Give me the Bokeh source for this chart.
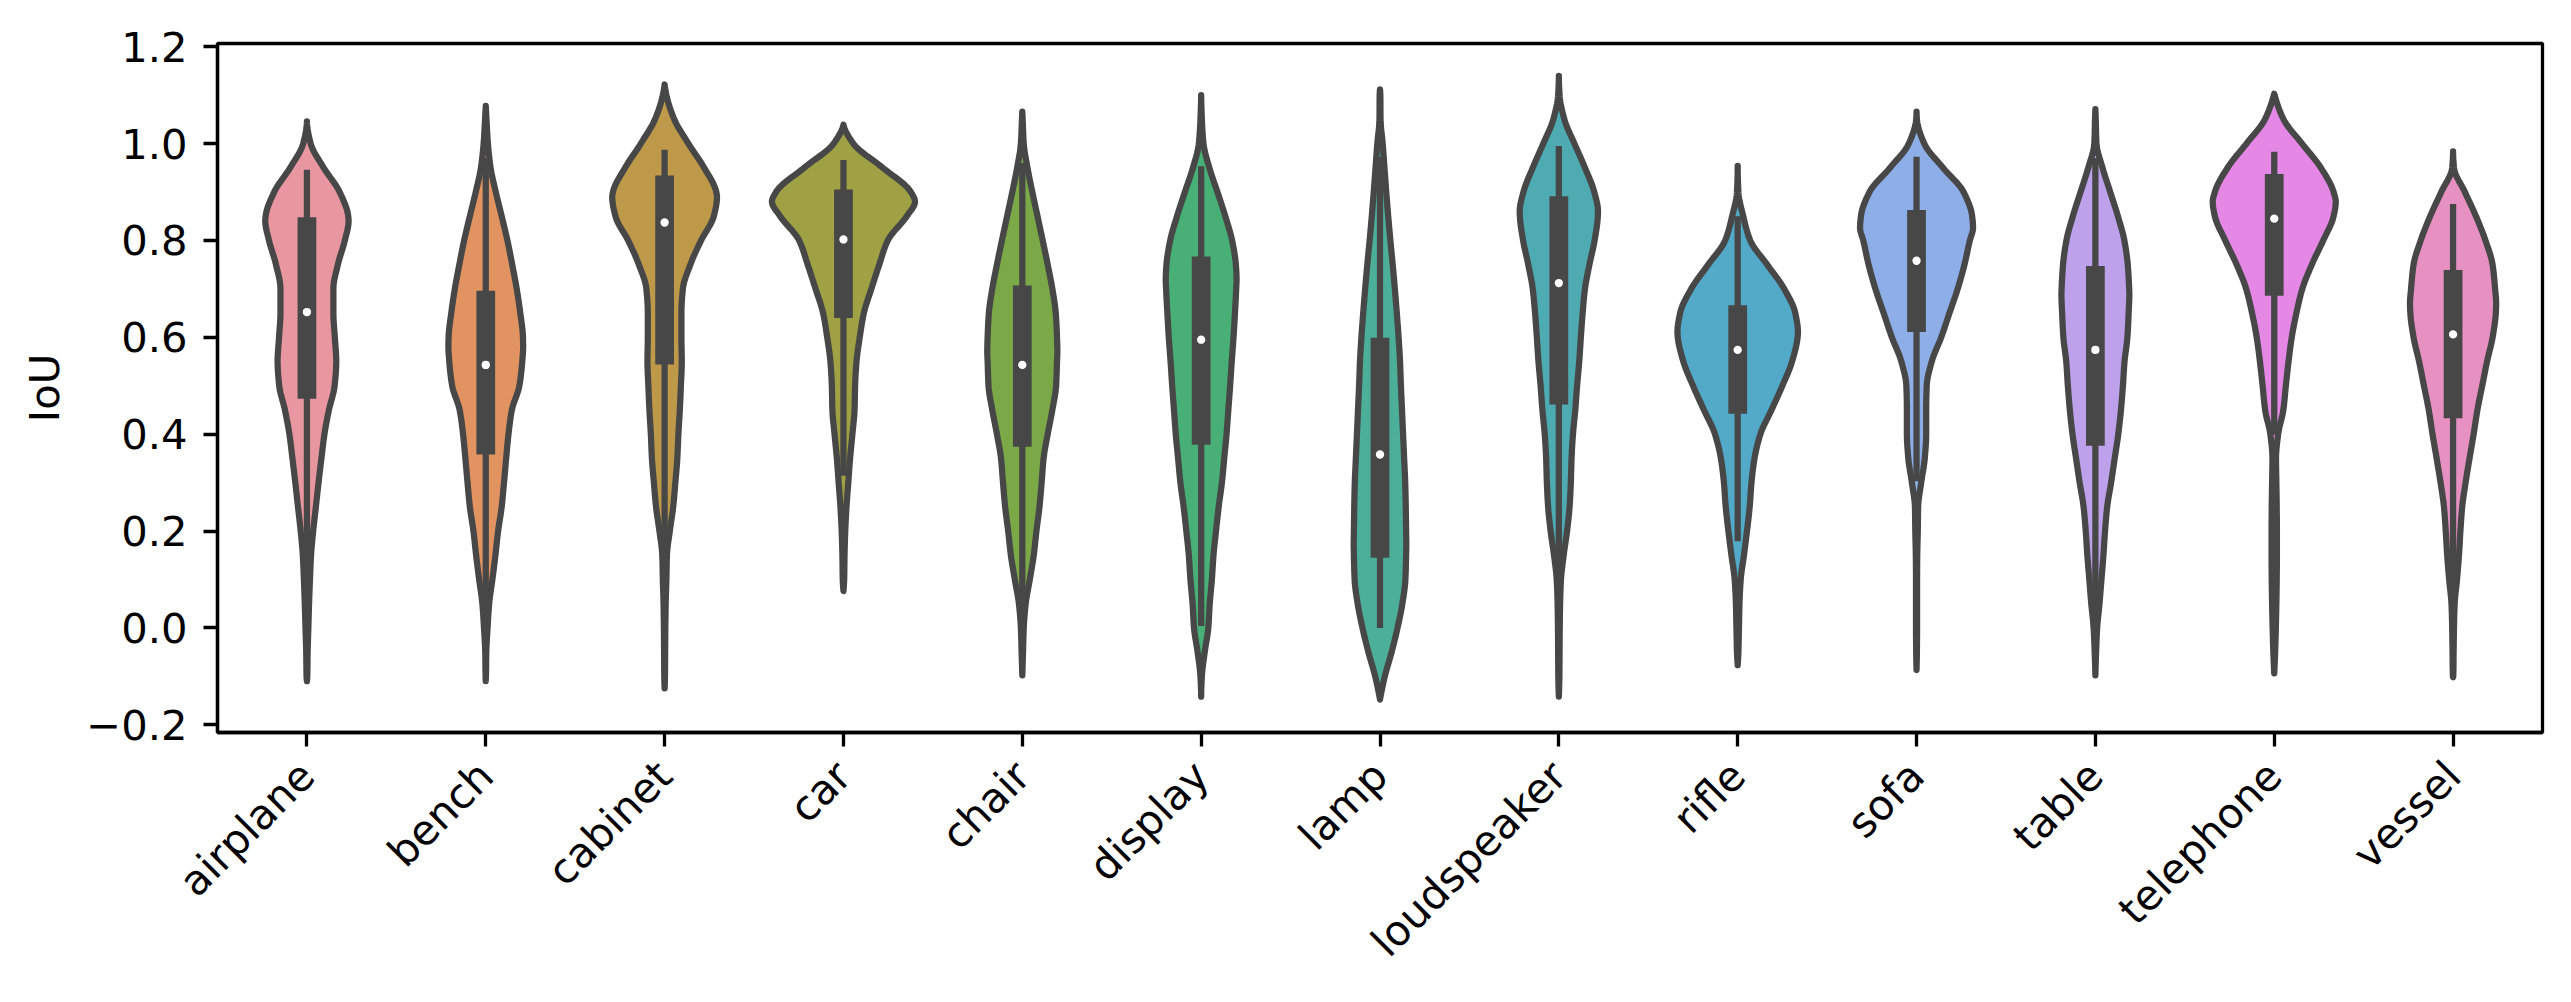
import math
import numpy as np
from bokeh.plotting import figure
from bokeh.models import Range1d, FixedTicker, CustomJSTickFormatter
from bokeh.embed import file_html
from bokeh.resources import INLINE

# ---------------- data ----------------
categories = ["airplane", "bench", "cabinet", "car", "chair", "display", "lamp",
              "loudspeaker", "rifle", "sofa", "table", "telephone", "vessel"]

# common IoU levels at which the violin half-widths (category units) were read
levels = [1.15, 1.10, 1.05, 1.00, 0.95, 0.90, 0.85, 0.80, 0.75, 0.70, 0.65, 0.60, 0.55,
          0.50, 0.45, 0.40, 0.35, 0.30, 0.25, 0.20, 0.15, 0.10, 0.05, 0.00, -0.05, -0.10, -0.15]

width_airplane = [0, 0, 0, 0.021, 0.094, 0.183, 0.231, 0.212, 0.173, 0.148, 0.148, 0.156, 0.164,
                  0.155, 0.123, 0.098, 0.081, 0.065, 0.050, 0.035, 0.023, 0.017, 0.012, 0.008, 0.004, 0.002, 0]
width_bench = [0, 0, 0.004, 0.012, 0.027, 0.056, 0.089, 0.121, 0.148, 0.173, 0.193, 0.208, 0.204,
               0.188, 0.146, 0.127, 0.114, 0.102, 0.089, 0.069, 0.054, 0.037, 0.019, 0.010, 0.003, 0.001, 0]
width_cabinet = [0, 0.010, 0.054, 0.133, 0.221, 0.289, 0.275, 0.204, 0.144, 0.102, 0.094, 0.094, 0.096,
                 0.091, 0.085, 0.077, 0.071, 0.060, 0.048, 0.029, 0.013, 0.010, 0.006, 0.004, 0.003, 0.002, 0]
width_car = [0, 0, 0, 0.055, 0.220, 0.377, 0.354, 0.248, 0.200, 0.156, 0.114, 0.091, 0.073,
             0.065, 0.062, 0.050, 0.037, 0.027, 0.017, 0.010, 0.006, 0.004, 0, 0, 0, 0, 0]
width_chair = [0, 0, 0.002, 0.008, 0.029, 0.056, 0.085, 0.114, 0.142, 0.168, 0.187, 0.194, 0.194,
               0.189, 0.168, 0.142, 0.119, 0.108, 0.096, 0.079, 0.064, 0.042, 0.019, 0.008, 0.004, 0, 0]
width_display = [0, 0, 0.004, 0.013, 0.046, 0.091, 0.135, 0.173, 0.194, 0.196, 0.189, 0.181, 0.171,
                 0.162, 0.152, 0.142, 0.129, 0.116, 0.098, 0.083, 0.069, 0.060, 0.048, 0.040, 0.020, 0.004, 0]
width_lamp = [0, 0.002, 0.003, 0.015, 0.025, 0.035, 0.046, 0.058, 0.071, 0.083, 0.094, 0.104, 0.112,
              0.117, 0.123, 0.129, 0.135, 0.141, 0.144, 0.146, 0.146, 0.142, 0.125, 0.098, 0.065, 0.027, 0]
width_loudspeaker = [0, 0.004, 0.031, 0.087, 0.146, 0.198, 0.218, 0.200, 0.171, 0.146, 0.133, 0.123, 0.114,
                     0.102, 0.092, 0.079, 0.071, 0.067, 0.060, 0.046, 0.027, 0.012, 0.007, 0.005, 0.004, 0.003, 0]
width_rifle = [0, 0, 0, 0, 0, 0.004, 0.031, 0.070, 0.165, 0.260, 0.322, 0.335, 0.304,
               0.250, 0.189, 0.127, 0.094, 0.077, 0.067, 0.052, 0.035, 0.017, 0.010, 0.007, 0.004, 0, 0]
width_sofa = [0, 0, 0.002, 0.043, 0.148, 0.263, 0.311, 0.298, 0.268, 0.230, 0.184, 0.138, 0.085,
              0.057, 0.054, 0.054, 0.046, 0.026, 0.009, 0.007, 0.004, 0.003, 0.003, 0.003, 0.002, 0, 0]
width_table = [0, 0, 0.002, 0.006, 0.040, 0.083, 0.126, 0.162, 0.181, 0.189, 0.186, 0.179, 0.163,
               0.154, 0.143, 0.128, 0.108, 0.088, 0.066, 0.054, 0.045, 0.034, 0.023, 0.010, 0.004, 0, 0]
width_telephone = [0, 0.002, 0.052, 0.155, 0.261, 0.332, 0.332, 0.274, 0.210, 0.157, 0.124, 0.098, 0.080,
                   0.065, 0.051, 0.022, 0.010, 0.012, 0.014, 0.015, 0.015, 0.014, 0.012, 0.009, 0.005, 0, 0]
width_vessel = [0, 0, 0, 0, 0.005, 0.066, 0.128, 0.181, 0.221, 0.235, 0.239, 0.221, 0.190,
                0.163, 0.136, 0.115, 0.092, 0.070, 0.051, 0.041, 0.033, 0.022, 0.009, 0.005, 0.003, 0.001, 0]

top_tip = [1.046, 1.078, 1.122, 1.039, 1.066, 1.100, 1.112, 1.140, 0.954, 1.066, 1.071, 1.103, 0.984]
bottom_tip = [-0.110, -0.110, -0.125, 0.076, -0.098, -0.142, -0.148, -0.142, -0.077, -0.087, -0.098, -0.094, -0.102]
peak_level = [0.84, 0.58, 0.89, 0.88, 0.57, 0.72, 0.17, 0.86, 0.61, 0.826, 0.69, 0.88, 0.67]
peak_width = [0.233, 0.209, 0.293, 0.400, 0.196, 0.198, 0.147, 0.219, 0.337, 0.316, 0.190, 0.344, 0.241]

whisker_low = [0.00, 0.01, 0.00, 0.314, 0.00, 0.004, 0.00, 0.00, 0.179, 0.303, 0.00, 0.399, 0.069]
whisker_high = [0.946, 0.97, 0.987, 0.966, 0.96, 0.953, 0.972, 0.995, 0.85, 0.973, 0.97, 0.983, 0.875]
q1 = [0.473, 0.358, 0.544, 0.640, 0.374, 0.378, 0.145, 0.461, 0.442, 0.611, 0.376, 0.686, 0.433]
q3 = [0.848, 0.696, 0.934, 0.905, 0.707, 0.767, 0.599, 0.891, 0.666, 0.863, 0.747, 0.937, 0.739]
median = [0.652, 0.543, 0.837, 0.802, 0.543, 0.595, 0.358, 0.712, 0.574, 0.758, 0.574, 0.845, 0.606]

y_ticks = [-0.2, 0.0, 0.2, 0.4, 0.6, 0.8, 1.0, 1.2]

fill_colors = ["#E8969F", "#E19461", "#BE994A", "#A0A044", "#7BA948", "#48AF76", "#4CAF9A",
               "#4EABB2", "#52A9C8", "#8DAEE6", "#BDA1EA", "#E487E5", "#E691C1"]

widths = [width_airplane, width_bench, width_cabinet, width_car, width_chair, width_display,
          width_lamp, width_loudspeaker, width_rifle, width_sofa, width_table, width_telephone,
          width_vessel]


# ---------------- smooth outline drawn through the read profile points ----------------
def pchip_curve(xk, yk, n=240):
    """Shape-preserving (monotone) cubic curve through the given points."""
    xk = np.asarray(xk, float)
    yk = np.asarray(yk, float)
    h = np.diff(xk)
    d = np.diff(yk) / h
    m = np.zeros_like(yk)
    for k in range(1, len(xk) - 1):
        if d[k - 1] * d[k] > 0:
            w1 = 2 * h[k] + h[k - 1]
            w2 = h[k] + 2 * h[k - 1]
            m[k] = (w1 + w2) / (w1 / d[k - 1] + w2 / d[k])

    def end(h0, h1, d0, d1):
        v = ((2 * h0 + h1) * d0 - h0 * d1) / (h0 + h1)
        if np.sign(v) != np.sign(d0):
            v = 0.0
        elif np.sign(d0) != np.sign(d1) and abs(v) > abs(3 * d0):
            v = 3 * d0
        return v

    if len(xk) > 2:
        m[0] = end(h[0], h[1], d[0], d[1])
        m[-1] = end(h[-1], h[-2], d[-1], d[-2])
    else:
        m[:] = d[0]
    xs_out = np.union1d(np.linspace(xk[0], xk[-1], n), xk)
    seg = np.clip(np.searchsorted(xk, xs_out, side="right") - 1, 0, len(xk) - 2)
    t = (xs_out - xk[seg]) / h[seg]
    h00 = 2 * t**3 - 3 * t**2 + 1
    h10 = t**3 - 2 * t**2 + t
    h01 = -2 * t**3 + 3 * t**2
    h11 = t**3 - t**2
    ys_out = h00 * yk[seg] + h10 * h[seg] * m[seg] + h01 * yk[seg + 1] + h11 * h[seg] * m[seg + 1]
    return xs_out, np.maximum(ys_out, 0.0)


GRAY = "#474747"
xs, ys = [], []
for i in range(len(categories)):
    pts = [(lv, w) for lv, w in zip(levels, widths[i]) if bottom_tip[i] < lv < top_tip[i]]
    pts.append((peak_level[i], peak_width[i]))
    pts.append((top_tip[i], 0.0))
    pts.append((bottom_tip[i], 0.0))
    pts.sort(key=lambda t: t[0])
    yy, ww = pchip_curve([pt[0] for pt in pts], [pt[1] for pt in pts])
    xs.append(list(i + ww[::-1]) + list(i - ww))
    ys.append(list(yy[::-1]) + list(yy))

idx = list(range(len(categories)))

# ---------------- figure ----------------
W, H = 2555, 986
p = figure(width=W, height=H,
           x_range=Range1d(-0.5, 12.5), y_range=Range1d(-0.2160, 1.2066),
           output_backend="svg", toolbar_location=None,
           min_border_left=217, min_border_top=43,
           min_border_right=13, min_border_bottom=251,
           background_fill_color="white", border_fill_color="white")

p.patches(xs, ys, fill_color=fill_colors, line_color=GRAY, line_width=6.25, line_join="round")
p.segment(x0=idx, y0=whisker_low, x1=idx, y1=whisker_high, line_color=GRAY, line_width=6.25,
          line_cap="butt")
p.segment(x0=idx, y0=q1, x1=idx, y1=q3, line_color=GRAY, line_width=18.75, line_cap="butt")
p.scatter(idx, median, size=8.3, marker="circle", fill_color="white", line_color=None)

# ---------------- axes styling ----------------
p.xgrid.visible = False
p.ygrid.visible = False
p.outline_line_color = "black"
p.outline_line_width = 3.3
p.outline_line_alpha = 1.0

p.xaxis.ticker = FixedTicker(ticks=idx)
p.xaxis.formatter = CustomJSTickFormatter(args=dict(cats=categories),
                                          code="const k = Math.round(tick); return (k >= 0 && k < cats.length) ? cats[k] : '';")
p.xaxis.major_label_orientation = math.pi / 4

p.yaxis.ticker = FixedTicker(ticks=y_ticks)
p.yaxis.formatter = CustomJSTickFormatter(code="return (tick < -1e-9 ? '\u2212' : '') + Math.abs(tick).toFixed(1);")
p.yaxis.axis_label = "IoU"

for ax in (p.xaxis, p.yaxis):
    ax.axis_line_color = "black"
    ax.axis_line_width = 3.3
    ax.major_tick_line_color = "black"
    ax.major_tick_line_width = 3.3
    ax.major_tick_out = 14
    ax.major_tick_in = 0
    ax.minor_tick_line_color = None
    ax.major_label_text_font = "DejaVu Sans"
    ax.major_label_text_font_size = "41.7px"
    ax.major_label_text_color = "black"
    ax.axis_label_text_font = "DejaVu Sans"
    ax.axis_label_text_font_size = "41.7px"
    ax.axis_label_text_font_style = "normal"
    ax.axis_label_text_color = "black"
    ax.axis_label_standoff = 14

p.yaxis.major_label_standoff = 16
p.xaxis.major_label_standoff = 22

open("out.html", "w").write(file_html(p, INLINE))
